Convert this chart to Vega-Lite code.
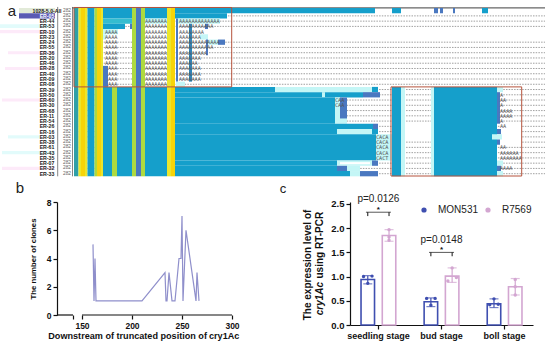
{
"$schema":"https://vega.github.io/schema/vega-lite/v6.json",
"padding":0,"spacing":22,"bounds":"flush","background":"white",
"resolve":{"scale":{"color":"independent"},"legend":{"color":"independent"}},
"config":{"view":{"stroke":null},"font":"Liberation Sans","axis":{"labelOverlap":false,"labelFlush":false}},
"datasets":{
"rects":[
{"a":0,"b":50,"t":2.6,"u":3.3,"k":"haze"},{"a":0,"b":52,"t":3.7,"u":4.3,"k":"blush"},{"a":8,"b":55,"t":7.7,"u":8.3,"k":"blush"},{"a":5,"b":50,"t":10.7,"u":11.3,"k":"blush"},{"a":2,"b":50,"t":16.7,"u":17.3,"k":"blush"},{"a":8,"b":40,"t":23.7,"u":24.3,"k":"haze"},{"a":2,"b":55,"t":26.7,"u":27.3,"k":"haze"},{"a":2,"b":55,"t":29.7,"u":30.3,"k":"blush"},
{"a":72,"b":545,"t":-0.65,"u":-0.4,"k":"gray"},
{"a":19,"b":55,"t":-0.5,"u":0.5,"k":"sage"},{"a":19,"b":55,"t":0.5,"u":1.5,"k":"navy"},
{"a":74,"b":78.5,"t":-0.5,"u":31.5,"k":"teal"},{"a":78.5,"b":81,"t":-0.5,"u":31.5,"k":"yellow"},{"a":81,"b":85,"t":-0.5,"u":31.5,"k":"orange"},{"a":85,"b":87.5,"t":-0.5,"u":31.5,"k":"yellow"},{"a":87.5,"b":94.5,"t":-0.5,"u":31.5,"k":"blue"},{"a":94.5,"b":97,"t":-0.5,"u":31.5,"k":"lime"},{"a":97,"b":101,"t":-0.5,"u":31.5,"k":"orange"},{"a":101,"b":103,"t":-0.5,"u":31.5,"k":"yellow"},{"a":132,"b":136,"t":-0.5,"u":31.5,"k":"lime"},{"a":136,"b":141,"t":-0.5,"u":31.5,"k":"violet"},{"a":141,"b":145,"t":-0.5,"u":31.5,"k":"lime"},{"a":167,"b":171,"t":-0.5,"u":31.5,"k":"yellow"},{"a":171,"b":175,"t":-0.5,"u":31.5,"k":"orange"},
{"a":103,"b":132,"t":-0.5,"u":1.5,"k":"blue"},{"a":145,"b":167,"t":-0.5,"u":1.5,"k":"blue"},{"a":175,"b":375,"t":-0.5,"u":0.5,"k":"blue"},{"a":175,"b":227,"t":0.5,"u":1.5,"k":"blue"},
{"a":392,"b":401,"t":-0.5,"u":0.5,"k":"blue"},{"a":434,"b":438,"t":-0.5,"u":0.5,"k":"violet"},{"a":440,"b":443,"t":-0.5,"u":0.5,"k":"violet"},{"a":453,"b":455,"t":-0.5,"u":0.5,"k":"violet"},{"a":482,"b":488,"t":-0.5,"u":0.5,"k":"blue"},
{"a":103,"b":132,"t":1.5,"u":2.5,"k":"cyan"},{"a":145,"b":167,"t":1.5,"u":2.5,"k":"pale"},{"a":177,"b":220,"t":1.5,"u":2.5,"k":"pale"},
{"a":103,"b":125,"t":2.5,"u":3.5,"k":"blue"},{"a":130,"b":132,"t":2.5,"u":3.5,"k":"violet"},{"a":205,"b":208,"t":2.5,"u":3.5,"k":"violet"},
{"a":103,"b":118,"t":3.5,"u":4.5,"k":"pale"},{"a":103,"b":106,"t":4.5,"u":5.5,"k":"pale"},{"a":200,"b":208,"t":4.5,"u":5.5,"k":"pale"},
{"a":176,"b":178,"t":1.5,"u":13.5,"k":"violet"},{"a":189,"b":192,"t":2.5,"u":13.5,"k":"steel"},
{"a":206,"b":208,"t":5.5,"u":8.5,"k":"violet"},{"a":208,"b":218,"t":5.5,"u":6.5,"k":"pale"},{"a":218,"b":225,"t":5.5,"u":6.5,"k":"violet"},
{"a":103,"b":108,"t":10.5,"u":14.5,"k":"violet"},{"a":176,"b":185,"t":13.5,"u":14.5,"k":"pale"},
{"a":103,"b":112,"t":14.5,"u":31.5,"k":"blue"},{"a":112,"b":117,"t":14.5,"u":31.5,"k":"lime"},{"a":117,"b":132,"t":14.5,"u":31.5,"k":"blue"},{"a":145,"b":167,"t":14.5,"u":31.5,"k":"blue"},
{"a":392,"b":401,"t":14.5,"u":31.5,"k":"blue"},{"a":401,"b":405,"t":14.5,"u":31.5,"k":"pale"},{"a":431,"b":434,"t":14.5,"u":31.5,"k":"pale"},{"a":434,"b":497,"t":14.5,"u":31.5,"k":"blue"},
{"a":405,"b":431,"t":21.5,"u":24.5,"k":"white"},{"a":500,"b":521,"t":21.5,"u":25.5,"k":"white"},
{"a":175,"b":275,"t":14.5,"u":15.5,"k":"blue"},{"a":275,"b":372,"t":14.5,"u":15.5,"k":"pale"},{"a":372,"b":378,"t":14.5,"u":15.5,"k":"blue"},
{"a":175,"b":363,"t":15.5,"u":16.5,"k":"blue"},{"a":322,"b":325,"t":15.5,"u":16.5,"k":"pale"},{"a":363,"b":380,"t":15.5,"u":16.5,"k":"violet"},
{"a":175,"b":335,"t":16.5,"u":21.5,"k":"blue"},{"a":335,"b":347,"t":16.5,"u":21.5,"k":"pale"},{"a":340,"b":347,"t":16.5,"u":20.5,"k":"violet"},
{"a":175,"b":373,"t":21.5,"u":22.5,"k":"blue"},{"a":373,"b":378,"t":21.5,"u":22.5,"k":"violet"},
{"a":175,"b":337,"t":22.5,"u":23.5,"k":"blue"},{"a":337,"b":372,"t":22.5,"u":23.5,"k":"pale"},{"a":372,"b":378,"t":22.5,"u":23.5,"k":"blue"},
{"a":175,"b":376,"t":23.5,"u":28.5,"k":"blue"},{"a":376,"b":392,"t":23.5,"u":28.5,"k":"pale"},
{"a":175,"b":337,"t":28.5,"u":29.5,"k":"blue"},{"a":337,"b":372,"t":28.5,"u":29.5,"k":"pale"},{"a":340,"b":370,"t":28.8,"u":29.2,"k":"white"},{"a":372,"b":378,"t":28.5,"u":29.5,"k":"violet"},
{"a":175,"b":337,"t":29.5,"u":30.5,"k":"blue"},{"a":337,"b":347,"t":29.5,"u":30.5,"k":"violet"},{"a":347,"b":360,"t":29.5,"u":30.5,"k":"pale"},
{"a":175,"b":350,"t":30.5,"u":31.5,"k":"blue"},{"a":350,"b":360,"t":30.5,"u":31.5,"k":"pale"},{"a":360,"b":378,"t":30.5,"u":31.5,"k":"violet"},
{"a":497,"b":503,"t":14.5,"u":15.5,"k":"pale"},{"a":497,"b":500,"t":15.5,"u":21.5,"k":"violet"},{"a":497,"b":501,"t":22.5,"u":23.5,"k":"violet"},{"a":492,"b":502,"t":23.5,"u":24.5,"k":"pale"},{"a":497,"b":500,"t":24.5,"u":25.5,"k":"violet"},{"a":497,"b":503,"t":28.5,"u":29.5,"k":"pale"},{"a":497,"b":501,"t":29.5,"u":30.5,"k":"violet"},{"a":497,"b":503,"t":30.5,"u":31.5,"k":"pale"}
],
"dash":[{"r":1},{"r":2},{"r":3},{"r":6},{"r":7},{"r":8},{"r":9},{"r":10},{"r":11},{"r":12},{"r":13},{"r":14},{"r":15},{"r":16},{"r":17},{"r":18},{"r":19},{"r":20},{"r":21},{"r":22},{"r":23},{"r":24},{"r":25},{"r":26},{"r":27},{"r":28},{"r":29},{"r":30},{"r":31}],
"names":[{"r":0,"n":"1028-5.0-All","c":"#222"},{"r":1,"n":"ER-05","c":"#fff"},{"r":2,"n":"ER-44","c":"#222"},{"r":3,"n":"ER-53","c":"#222"},{"r":4,"n":"ER-10","c":"#222"},{"r":5,"n":"ER-23","c":"#222"},{"r":6,"n":"ER-24","c":"#222"},{"r":7,"n":"ER-55","c":"#222"},{"r":8,"n":"ER-36","c":"#222"},{"r":9,"n":"ER-20","c":"#222"},{"r":10,"n":"ER-46","c":"#222"},{"r":11,"n":"ER-28","c":"#222"},{"r":12,"n":"ER-40","c":"#222"},{"r":13,"n":"ER-09","c":"#222"},{"r":14,"n":"ER-08","c":"#222"},{"r":15,"n":"ER-39","c":"#222"},{"r":16,"n":"ER-50","c":"#222"},{"r":17,"n":"ER-60","c":"#222"},{"r":18,"n":"ER-30","c":"#222"},{"r":19,"n":"ER-68","c":"#222"},{"r":20,"n":"ER-11","c":"#222"},{"r":21,"n":"ER-54","c":"#222"},{"r":22,"n":"ER-26","c":"#222"},{"r":23,"n":"ER-16","c":"#222"},{"r":24,"n":"ER-03","c":"#222"},{"r":25,"n":"ER-38","c":"#222"},{"r":26,"n":"ER-61","c":"#222"},{"r":27,"n":"ER-43","c":"#222"},{"r":28,"n":"ER-35","c":"#222"},{"r":29,"n":"ER-07","c":"#222"},{"r":30,"n":"ER-32","c":"#222"},{"r":31,"n":"ER-33","c":"#222"}],
"runs":[
{"r":2,"x":145,"s":"AAAAAAA"},{"r":3,"x":145,"s":"AAAAAAA"},{"r":4,"x":145,"s":"AAAAAAA"},{"r":5,"x":145,"s":"AAAAAAA"},{"r":6,"x":145,"s":"AAAAAAA"},{"r":7,"x":145,"s":"AAAAAAA"},{"r":8,"x":145,"s":"AAAAAAA"},{"r":9,"x":145,"s":"AAAAAAA"},{"r":10,"x":145,"s":"AAAAAAA"},{"r":11,"x":145,"s":"AAAAAAA"},{"r":12,"x":145,"s":"AAAAAAA"},{"r":13,"x":145,"s":"AAAAAAA"},{"r":14,"x":145,"s":"AAAAAAA"},
{"r":2,"x":179,"s":"AAAAAAAAAAAAA"},{"r":3,"x":179,"s":"AAAAAAAAAAA"},{"r":4,"x":179,"s":"AAAAAAAA"},{"r":5,"x":179,"s":"AAAAAAA"},{"r":6,"x":179,"s":"AAAAAAAAAAAAA"},{"r":7,"x":179,"s":"AAAAAAAAAAA"},{"r":8,"x":179,"s":"AAAAAAAAA"},{"r":9,"x":179,"s":"AAAAAAA"},{"r":10,"x":179,"s":"AAAAAA"},{"r":11,"x":179,"s":"AAAAAAA"},{"r":12,"x":179,"s":"AAAAAAA"},{"r":13,"x":179,"s":"AAAAAAA"},
{"r":4,"x":105,"s":"AAAA"},{"r":5,"x":105,"s":"AAAA"},{"r":6,"x":105,"s":"AAAA"},{"r":7,"x":105,"s":"AAAA"},{"r":8,"x":105,"s":"AAAA"},{"r":9,"x":105,"s":"AAAA"},{"r":10,"x":105,"s":"AAAA"},{"r":11,"x":108,"s":"AAA"},{"r":12,"x":108,"s":"AAA"},{"r":13,"x":108,"s":"AAA"},{"r":14,"x":108,"s":"AAA"},
{"r":17,"x":335,"s":"CAA"},{"r":18,"x":335,"s":"CAA"},{"r":24,"x":376,"s":"CACA"},{"r":25,"x":376,"s":"CACA"},{"r":26,"x":376,"s":"CACA"},{"r":27,"x":376,"s":"CACA"},{"r":28,"x":376,"s":"CACT"},
{"r":16,"x":500,"s":"A"},{"r":17,"x":500,"s":"AA"},{"r":18,"x":500,"s":"A"},{"r":19,"x":500,"s":"AAAA"},{"r":20,"x":500,"s":"AAAA"},{"r":21,"x":500,"s":"A"},{"r":22,"x":500,"s":"AA"},{"r":26,"x":500,"s":"AA"},{"r":27,"x":500,"s":"AAAAAA"},{"r":28,"x":500,"s":"AAAAAAA"},{"r":30,"x":500,"s":"AAAA"}
],
"bars":[
{"stage":"seedling stage","cultivar":"MON531","slot":"m2","mean":0.94,"lo":0.85,"hi":1.02},
{"stage":"seedling stage","cultivar":"R7569","slot":"r2","mean":1.85,"lo":1.73,"hi":1.97},
{"stage":"bud stage","cultivar":"MON531","slot":"m2","mean":0.48,"lo":0.38,"hi":0.56},
{"stage":"bud stage","cultivar":"R7569","slot":"r2","mean":1.01,"lo":0.88,"hi":1.18},
{"stage":"boll stage","cultivar":"MON531","slot":"m2","mean":0.44,"lo":0.36,"hi":0.54},
{"stage":"boll stage","cultivar":"R7569","slot":"r2","mean":0.79,"lo":0.62,"hi":0.96}
],
"dots":[
{"stage":"seedling stage","cultivar":"MON531","slot":"m1","v":1.0},{"stage":"seedling stage","cultivar":"MON531","slot":"m2","v":0.86},{"stage":"seedling stage","cultivar":"MON531","slot":"m3","v":1.01},
{"stage":"seedling stage","cultivar":"R7569","slot":"r2","v":1.97},{"stage":"seedling stage","cultivar":"R7569","slot":"r2","v":1.82},{"stage":"seedling stage","cultivar":"R7569","slot":"r2","v":1.75},
{"stage":"bud stage","cultivar":"MON531","slot":"m1","v":0.55},{"stage":"bud stage","cultivar":"MON531","slot":"m2","v":0.41},{"stage":"bud stage","cultivar":"MON531","slot":"m3","v":0.55},
{"stage":"bud stage","cultivar":"R7569","slot":"r1","v":0.91},{"stage":"bud stage","cultivar":"R7569","slot":"r2","v":1.18},{"stage":"bud stage","cultivar":"R7569","slot":"r3","v":0.98},
{"stage":"boll stage","cultivar":"MON531","slot":"m1","v":0.42},{"stage":"boll stage","cultivar":"MON531","slot":"m2","v":0.54},{"stage":"boll stage","cultivar":"MON531","slot":"m3","v":0.43},
{"stage":"boll stage","cultivar":"R7569","slot":"r2","v":0.94},{"stage":"boll stage","cultivar":"R7569","slot":"r2","v":0.79},{"stage":"boll stage","cultivar":"R7569","slot":"r2","v":0.62}
],
"brackets":[
{"stage":"seedling stage","top":2.33,"low":2.25,"star":2.37,"ptext":"p=0.0126","py":2.6},
{"stage":"bud stage","top":1.5,"low":1.42,"star":1.54,"ptext":"p=0.0148","py":1.75}
]
},
"vconcat":[
{"width":550,"height":180,
"encoding":{},
"layer":[
{"data":{"name":"dash"},"mark":{"type":"rule","color":"#777","strokeWidth":0.7,"strokeDash":[1.5,1.2]},
 "transform":[{"calculate":"74","as":"a"},{"calculate":"545","as":"b"}],
 "encoding":{"x":{"field":"a","type":"quantitative","scale":{"domain":[0,550],"nice":false,"zero":false},"axis":null},"x2":{"field":"b"},"y":{"field":"r","type":"quantitative","scale":{"domain":[-2.02,32.2],"reverse":true,"nice":false,"zero":false},"axis":null}}},
{"data":{"name":"rects"},"mark":{"type":"rect"},
 "encoding":{"x":{"field":"a","type":"quantitative","axis":null},"x2":{"field":"b"},"y":{"field":"t","type":"quantitative","axis":null},"y2":{"field":"u"},
 "color":{"field":"k","type":"nominal","legend":null,"scale":{"domain":["white","gray","sage","navy","teal","yellow","orange","blue","lime","violet","pale","cyan","steel","blush","haze"],"range":["#ffffff","#666666","#e2ead8","#5a5ab4","#2f9fa8","#ece62c","#f7d408","#159fcb","#aeda40","#4a78c0","#c4f6f6","#35bdd0","#2f86b8","#fdeaf9","#e2fbfb"]}}}},
{"data":{"values":[{"a":57.7,"t":-0.7,"u":31.5},{"a":72.5,"t":-0.7,"u":31.5}]},"mark":{"type":"rule","color":"#666","strokeWidth":0.8},
 "encoding":{"x":{"field":"a","type":"quantitative","axis":null},"y":{"field":"t","type":"quantitative","axis":null},"y2":{"field":"u"}}},
{"data":{"name":"runs"},"mark":{"type":"text","font":"DejaVu Sans Mono","fontSize":5.2,"align":"left","baseline":"middle","color":"#555"},
 "encoding":{"x":{"field":"x","type":"quantitative","axis":null},"y":{"field":"r","type":"quantitative","axis":null},"text":{"field":"s"}}},
{"data":{"name":"names"},"mark":{"type":"text","fontSize":5.2,"fontWeight":"bold","align":"center","baseline":"middle"},
 "transform":[{"calculate":"47","as":"xn"}],
 "encoding":{"x":{"field":"xn","type":"quantitative","axis":null},"y":{"field":"r","type":"quantitative","axis":null},"text":{"field":"n"},"color":{"field":"c","type":"nominal","scale":null}}},
{"data":{"name":"names"},"mark":{"type":"text","fontSize":4.8,"align":"center","baseline":"middle","color":"#666","text":"282"},
 "transform":[{"calculate":"67","as":"xn"}],
 "encoding":{"x":{"field":"xn","type":"quantitative","axis":null},"y":{"field":"r","type":"quantitative","axis":null}}},
{"data":{"values":[{"a":74,"b":231.7,"t":-0.6,"u":14.5},{"a":391,"b":521.7,"t":14.5,"u":31.44}]},"mark":{"type":"rect","fill":null,"stroke":"#b5533c","strokeWidth":1},
 "encoding":{"x":{"field":"a","type":"quantitative","axis":null},"x2":{"field":"b"},"y":{"field":"t","type":"quantitative","axis":null},"y2":{"field":"u"}}},
{"data":{"values":[{"x":12,"y":0.07,"s":"a"}]},"mark":{"type":"text","fontSize":15,"align":"center","baseline":"middle","color":"#222"},
 "encoding":{"x":{"field":"x","type":"quantitative","axis":null},"y":{"field":"y","type":"quantitative","axis":null},"text":{"field":"s"}}}
]},
{"resolve":{"scale":{"color":"independent"},"legend":{"color":"independent"}},
"hconcat":[
{"width":57,"height":113,"data":{"values":[]},"mark":{"type":"point"},"encoding":{}},
{"width":175,"height":113,
"layer":[
{"data":{"values":[{"a":125,"b":141},{"a":150,"b":300}]},"mark":{"type":"rule","color":"#111","strokeWidth":1.2},
 "encoding":{"x":{"field":"a","type":"quantitative","scale":{"domain":[125,300],"nice":false,"zero":false},
   "axis":{"values":[141,150,200,250,300],"labelExpr":"datum.value==141?'':datum.label","labelOverlap":false,"domain":false,"grid":false,"title":null,"tickColor":"#111","tickWidth":1.2,"tickSize":4,"labelFontSize":8.5,"labelFontWeight":"bold","labelColor":"#111","labelPadding":2}},
   "x2":{"field":"b"},"y":{"datum":0,"type":"quantitative","scale":{"domain":[0,8],"nice":false},
   "axis":{"values":[0,2,4,6,8],"tickCount":5,"labelOverlap":false,"grid":false,"domainColor":"#111","domainWidth":1.2,"tickColor":"#111","tickWidth":1.2,"tickSize":4,"labelFontSize":8.5,"labelFontWeight":"bold","labelColor":"#111","title":"The number of clones","titleFontSize":7.8,"titleFontWeight":"bold","titleColor":"#111","titlePadding":9}}}},
{"data":{"values":[{"p":161,"n":5},{"p":162,"n":1},{"p":163,"n":4},{"p":164,"n":1},{"p":210,"n":1},{"p":233,"n":3},{"p":234,"n":1},{"p":235,"n":1},{"p":237,"n":3},{"p":240,"n":1},{"p":243,"n":1},{"p":247,"n":4},{"p":249,"n":4},{"p":250,"n":7},{"p":251,"n":1},{"p":254,"n":6},{"p":264,"n":1},{"p":265,"n":3},{"p":267,"n":1}]},
 "mark":{"type":"line","color":"#8f8fcb","strokeWidth":1.2},
 "encoding":{"x":{"field":"p","type":"quantitative"},"y":{"field":"n","type":"quantitative","axis":{"values":[0,2,4,6,8],"labelOverlap":false}}}},
{"data":{"values":[{"p":116.3,"n":-1.48,"s":"Downstream of truncated position of ","st":"normal"},{"p":277,"n":-1.48,"s":"cry1Ac","st":"italic"}]},
 "mark":{"type":"text","fontSize":9.1,"fontWeight":"bold","align":"left","baseline":"middle","color":"#111","clip":false},
 "encoding":{"x":{"field":"p","type":"quantitative"},"y":{"field":"n","type":"quantitative"},"text":{"field":"s"},"fontStyle":{"field":"st","type":"nominal","scale":null}}},
{"data":{"values":[{"p":88,"n":9.0,"s":"b"}]},"mark":{"type":"text","fontSize":15,"align":"center","baseline":"middle","color":"#222"},
 "encoding":{"x":{"field":"p","type":"quantitative"},"y":{"field":"n","type":"quantitative"},"text":{"field":"s"}}}
]},
{"width":118,"height":113,"data":{"values":[]},"mark":{"type":"point"},"encoding":{}},
{"width":183,"height":123,
"encoding":{
 "x":{"field":"stage","type":"nominal","sort":["seedling stage","bud stage","boll stage"],"scale":{"domain":["seedling stage","bud stage","boll stage"],"paddingInner":0.1,"paddingOuter":0},
  "axis":{"labelAngle":0,"title":null,"domainColor":"#111","domainWidth":1.2,"tickColor":"#111","tickWidth":1.2,"tickSize":4,"labelFontSize":9,"labelFontWeight":"bold","labelColor":"#111","labelPadding":2}},
 "xOffset":{"field":"slot","type":"nominal","scale":{"type":"point","domain":["m1","m2","m3","g1","g2","r1","r2","r3"],"range":[11.4,45.4]}}
},
"layer":[
{"data":{"name":"dots"},"mark":{"type":"circle","size":12,"opacity":1},
 "encoding":{"y":{"field":"v","type":"quantitative","scale":{"domain":[0,2.541],"nice":false},
  "axis":{"values":[0,0.5,1,1.5,2,2.5],"tickCount":6,"labelOverlap":false,"format":".1f","grid":false,"title":null,"domainColor":"#111","domainWidth":1.2,"tickColor":"#111","tickWidth":1.2,"tickSize":4,"labelFontSize":9.5,"labelFontWeight":"bold","labelColor":"#111"}},
  "color":{"field":"cultivar","type":"nominal","scale":{"domain":["MON531","R7569"],"range":["#3f4fb0","#d3a6d1"]},
  "legend":{"orient":"none","legendX":69,"legendY":3,"direction":"horizontal","title":null,"symbolSize":14,"labelFontSize":10,"labelColor":"#222","labelFont":"Liberation Sans","columnPadding":4,"symbolType":"circle","labelOffset":9}}}},
{"data":{"name":"bars"},"mark":{"type":"bar","filled":false,"strokeWidth":1.6,"width":13.5},
 "encoding":{"y":{"field":"mean","type":"quantitative","axis":{"values":[0,0.5,1,1.5,2,2.5],"labelOverlap":false}},
  "color":{"field":"cultivar","type":"nominal"}}},
{"data":{"name":"bars"},"mark":{"type":"rule","strokeWidth":1.2},
 "encoding":{"y":{"field":"lo","type":"quantitative"},"y2":{"field":"hi"},"color":{"field":"cultivar","type":"nominal"}}},
{"data":{"name":"bars"},"mark":{"type":"tick","thickness":1.2,"size":9},
 "encoding":{"y":{"field":"lo","type":"quantitative"},"color":{"field":"cultivar","type":"nominal"}}},
{"data":{"name":"bars"},"mark":{"type":"tick","thickness":1.2,"size":9},
 "encoding":{"y":{"field":"hi","type":"quantitative"},"color":{"field":"cultivar","type":"nominal"}}},
{"data":{"name":"brackets"},"mark":{"type":"tick","thickness":1,"size":25,"color":"#111"},
 "encoding":{"xOffset":{"value":28.4},"y":{"field":"top","type":"quantitative"}}},
{"data":{"name":"brackets"},"mark":{"type":"rule","strokeWidth":1,"color":"#111"},"transform":[{"calculate":"'m2'","as":"slot"}],
 "encoding":{"y":{"field":"low","type":"quantitative"},"y2":{"field":"top"}}},
{"data":{"name":"brackets"},"mark":{"type":"rule","strokeWidth":1,"color":"#111"},"transform":[{"calculate":"'r2'","as":"slot"}],
 "encoding":{"y":{"field":"low","type":"quantitative"},"y2":{"field":"top"}}},
{"data":{"name":"brackets"},"mark":{"type":"text","fontSize":8,"fontWeight":"bold","baseline":"middle","color":"#111","text":"*","clip":false},
 "encoding":{"xOffset":{"value":28.4},"y":{"field":"star","type":"quantitative"}}},
{"data":{"name":"brackets"},"mark":{"type":"text","fontSize":10,"baseline":"middle","color":"#222","clip":false},
 "encoding":{"xOffset":{"value":28.4},"y":{"field":"py","type":"quantitative"},"text":{"field":"ptext"}}},
{"data":{"values":[{"s":"The expression level of","yy":1.24}]},"mark":{"type":"text","fontSize":10,"fontWeight":"bold","angle":270,"align":"center","baseline":"middle","color":"#111"},
 "encoding":{"x":{"value":-42},"xOffset":null,"y":{"field":"yy","type":"quantitative"},"text":{"field":"s"}}},
{"data":{"values":[{"s":"cry1Ac","yy":0.2}]},"mark":{"type":"text","fontSize":10,"fontWeight":"bold","fontStyle":"italic","angle":270,"align":"left","baseline":"middle","color":"#111"},
 "encoding":{"x":{"value":-30},"xOffset":null,"y":{"field":"yy","type":"quantitative"},"text":{"field":"s"}}},
{"data":{"values":[{"s":"using RT-PCR","yy":0.96}]},"mark":{"type":"text","fontSize":10,"fontWeight":"bold","angle":270,"align":"left","baseline":"middle","color":"#111"},
 "encoding":{"x":{"value":-30},"xOffset":null,"y":{"field":"yy","type":"quantitative"},"text":{"field":"s"}}},
{"data":{"values":[{"s":"c","yy":2.8}]},"mark":{"type":"text","fontSize":13,"align":"center","baseline":"middle","color":"#222"},
 "encoding":{"x":{"value":-67},"xOffset":null,"y":{"field":"yy","type":"quantitative"},"text":{"field":"s"}}}
]}
],"spacing":0,"bounds":"flush"}
]}
